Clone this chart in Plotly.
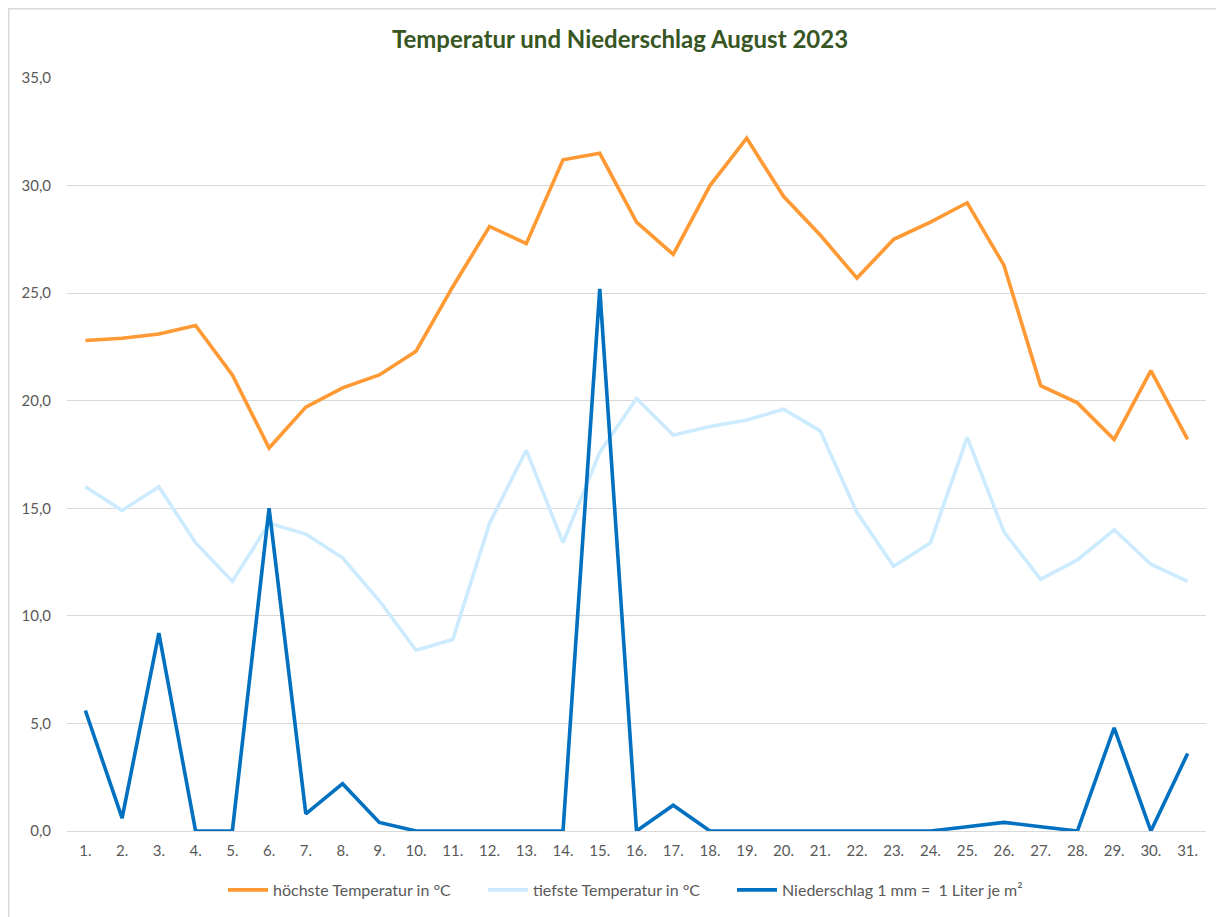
import plotly.graph_objects as go

days = [f"{d}." for d in range(1, 32)]
hoechste = [22.8, 22.9, 23.1, 23.5, 21.2, 17.8, 19.7, 20.6, 21.2, 22.3,
            25.3, 28.1, 27.3, 31.2, 31.5, 28.3, 26.8, 30.0, 32.2, 29.5,
            27.7, 25.7, 27.5, 28.3, 29.2, 26.3, 20.7, 19.9, 18.2, 21.4, 18.2]
tiefste = [16.0, 14.9, 16.0, 13.4, 11.6, 14.3, 13.8, 12.7, 10.7, 8.4,
           8.9, 14.3, 17.7, 13.4, 17.6, 20.1, 18.4, 18.8, 19.1, 19.6,
           18.6, 14.8, 12.3, 13.4, 18.3, 13.9, 11.7, 12.6, 14.0, 12.4, 11.6]
niederschlag = [5.6, 0.6, 9.2, 0.0, 0.0, 15.0, 0.8, 2.2, 0.4, 0.0,
                0.0, 0.0, 0.0, 0.0, 25.2, 0.0, 1.2, 0.0, 0.0, 0.0,
                0.0, 0.0, 0.0, 0.0, 0.2, 0.4, 0.2, 0.0, 4.8, 0.0, 3.6]
y_ticks = [0, 5, 10, 15, 20, 25, 30, 35]

# page body has an 8px margin, so the figure is shrunk / shifted by 8px
W, H = 1216, 909
L, R, T, B = 59, 1198, 70, 823
PW, PH = R - L, B - T

fig = go.Figure()
fig.add_trace(go.Scatter(x=days, y=hoechste, mode="lines", name="höchste Temperatur in °C",
                         line=dict(color="#FF9933", width=3.6), legend="legend"))
fig.add_trace(go.Scatter(x=days, y=tiefste, mode="lines", name="tiefste Temperatur in °C",
                         line=dict(color="#CCEBFF", width=3.6), legend="legend2"))
fig.add_trace(go.Scatter(x=days, y=niederschlag, mode="lines", name="Niederschlag 1 mm =  1 Liter je m²",
                         line=dict(color="#0070C0", width=3.6), legend="legend3"))

font_family = "Lato, 'Open Sans', sans-serif"


def legend_at(px):
    return dict(orientation="h", x=(px - L) / PW, xanchor="left",
                y=(B - 882) / PH, yanchor="middle",
                font=dict(family=font_family, size=16, color="#595959"),
                itemwidth=40, bgcolor="rgba(0,0,0,0)")


fig.update_layout(
    width=W, height=H,
    paper_bgcolor="white", plot_bgcolor="white",
    margin=dict(l=L, r=W - R, t=T, b=H - B, autoexpand=False),
    separators=",.",
    title=dict(text="<b>Temperatur und Niederschlag August 2023</b>",
               x=612 / W, xanchor="center", y=1 - 32 / H, yanchor="middle",
               yref="container", xref="container",
               font=dict(family=font_family, size=24, color="#375623")),
    xaxis=dict(type="category", range=[-0.5, 30.5], showgrid=False,
               showline=True, linecolor="#D9D9D9", linewidth=1,
               tickfont=dict(family=font_family, size=15, color="#595959"),
               ticks="", ticklabelstandoff=6),
    yaxis=dict(range=[0, 35], tickvals=y_ticks, tickformat=".1f",
               showgrid=True, gridcolor="#D9D9D9", gridwidth=1, zeroline=False,
               showline=False, ticks="", ticklabelstandoff=15,
               tickfont=dict(family=font_family, size=15, color="#595959")),
    legend=legend_at(215),
    legend2=legend_at(475),
    legend3=legend_at(724),
    showlegend=True,
)

fig.add_shape(type="rect", xref="paper", yref="paper",
              x0=(0.75 - L) / PW, x1=(W + 20 - L) / PW,
              y0=(B - (H + 20)) / PH, y1=(B - 0.75) / PH,
              line=dict(color="#D9D9D9", width=1.5), fillcolor="rgba(0,0,0,0)", layer="below")

fig.write_html("out.html")
